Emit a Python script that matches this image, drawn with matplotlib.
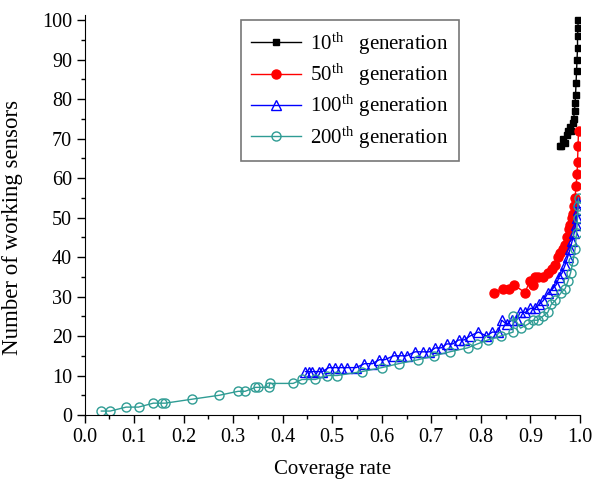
import matplotlib
matplotlib.use("Agg")
import matplotlib.pyplot as plt
from matplotlib.ticker import MultipleLocator

plt.rcParams['font.family'] = ['Liberation Serif', 'DejaVu Serif']
plt.rcParams['mathtext.fontset'] = 'custom'
plt.rcParams['mathtext.rm'] = 'Liberation Serif'
plt.rcParams['mathtext.it'] = 'Liberation Serif:italic'

# 10th generation
x10 = [0.959, 0.962, 0.966, 0.970, 0.973, 0.976, 0.979, 0.982, 0.985, 0.987,
       0.989, 0.990, 0.991, 0.992, 0.993, 0.994, 0.995, 0.995, 0.996, 0.996]
y10 = [68, 68, 70, 69, 71, 72, 73, 72, 74, 75,
       77, 79, 81, 84, 87, 90, 93, 96, 98, 100]

# 50th generation
x50 = [0.826, 0.845, 0.857, 0.866, 0.889, 0.899, 0.905, 0.909, 0.915, 0.925,
       0.936, 0.943, 0.949, 0.955, 0.960, 0.966, 0.970, 0.974, 0.977, 0.980,
       0.983, 0.986, 0.988, 0.990, 0.992, 0.994, 0.995, 0.996, 0.997]
y50 = [31, 32, 32, 33, 31, 34, 33, 35, 35, 35,
       36, 37, 38, 40, 41, 42, 43, 45, 47, 48,
       50, 51, 53, 55, 58, 61, 64, 68, 72]

# 100th generation
x100 = [0.446, 0.453, 0.460, 0.473, 0.480, 0.493, 0.505, 0.517, 0.530, 0.548,
        0.565, 0.581, 0.595, 0.606, 0.624, 0.638, 0.650, 0.667, 0.684, 0.696,
        0.708, 0.720, 0.731, 0.743, 0.755, 0.766, 0.778, 0.795, 0.811, 0.823,
        0.835, 0.842, 0.852, 0.862, 0.872, 0.879, 0.890, 0.900, 0.909, 0.918,
        0.926, 0.936, 0.945, 0.952, 0.958, 0.964, 0.970, 0.975, 0.980, 0.984,
        0.988, 0.991, 0.993, 0.995, 0.996]
y100 = [11, 11, 11, 11, 11, 12, 12, 12, 12, 12,
        13, 13, 14, 14, 15, 15, 15, 16, 16, 16,
        17, 17, 18, 18, 19, 19, 20, 21, 20, 21,
        21, 24, 23, 24, 24, 26, 26, 27, 27, 28,
        29, 31, 32, 33, 35, 36, 38, 40, 42, 44,
        46, 48, 50, 52, 54]

# 200th generation
x200 = [0.034, 0.052, 0.084, 0.109, 0.139, 0.156, 0.163, 0.217, 0.272, 0.310,
        0.324, 0.345, 0.350, 0.372, 0.374, 0.421, 0.439, 0.466, 0.490, 0.510,
        0.560, 0.600, 0.634, 0.673, 0.706, 0.737, 0.773, 0.793, 0.814, 0.840,
        0.865, 0.865, 0.880, 0.895, 0.905, 0.915, 0.925, 0.935, 0.942, 0.950,
        0.962, 0.970, 0.976, 0.981, 0.986, 0.990, 0.993, 0.995, 0.996, 0.997]
y200 = [1, 1, 2, 2, 3, 3, 3, 4, 5, 6,
        6, 7, 7, 7, 8, 8, 9, 9, 10, 10,
        11, 12, 13, 14, 15, 16, 17, 18, 19, 20,
        21, 25, 22, 23, 24, 24, 25, 26, 28, 29,
        31, 32, 34, 36, 39, 42, 46, 50, 53, 55]

labels = [r'10$^{\rm th}$   generation', r'50$^{\rm th}$   generation',
          r'100$^{\rm th}$ generation', r'200$^{\rm th}$ generation']

fig = plt.figure(figsize=(5.92, 4.82), dpi=100)
ax = fig.add_axes([84.5/592, 1-415/482, (580-84.5)/592, (415-15)/482])

teal = '#2f9c94'
ax.plot(x10, y10, color='black', lw=1, marker='s', ms=4, label=labels[0])
ax.plot(x50, y50, color='red', lw=1, marker='o', ms=6.5, label=labels[1])
ax.plot(x100, y100, color='blue', lw=1, marker='^', ms=6.5, mfc='none', mew=1, label=labels[2])
ax.plot(x200, y200, color=teal, lw=1, marker='o', ms=6.5, mfc='none', mew=1, label=labels[3])

ax.set_xlim(0, 1.0)
ax.set_ylim(0, 101.3)
ax.xaxis.set_major_locator(MultipleLocator(0.1))
ax.xaxis.set_minor_locator(MultipleLocator(0.05))
ax.yaxis.set_major_locator(MultipleLocator(10))
ax.yaxis.set_minor_locator(MultipleLocator(5))
ax.xaxis.set_major_formatter(matplotlib.ticker.FormatStrFormatter('%.1f'))
for s in ['top', 'right']:
    ax.spines[s].set_visible(False)
ax.tick_params(which='major', direction='out', length=6, width=1, labelsize=14.5, pad=3)
ax.tick_params(which='minor', direction='out', length=3, width=1)
ax.set_xlabel('Coverage rate', fontsize=15, labelpad=10)
ax.set_ylabel('Number of working sensors', fontsize=16.5)
ax.yaxis.set_label_coords(-0.125, 0.468)

leg = ax.legend(loc='upper left', bbox_to_anchor=(241/592, 1-20/482),
                bbox_transform=fig.transFigure, borderaxespad=0,
                fontsize=15, frameon=True, fancybox=False, handlelength=2.4,
                handletextpad=0.4, labelspacing=0.25, borderpad=0.5)
leg.get_frame().set_edgecolor('#555555')
leg.get_frame().set_linewidth(1.2)

fig.savefig('out.png', dpi=100)
